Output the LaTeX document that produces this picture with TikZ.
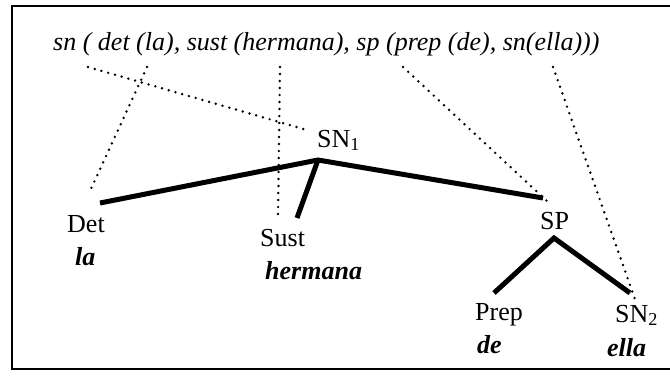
\documentclass[tikz,border=0pt]{standalone}
\usepackage{fontspec}
\setmainfont{Liberation Serif}
\tikzset{
  branch/.style={line width=5pt},
  link/.style={line width=2.7pt, line cap=round, dash pattern=on 0pt off 7pt},
  lab/.style={font=\fontsize{26}{30}\selectfont, inner sep=0pt, anchor=base west},
  word/.style={font=\fontsize{26}{30}\selectfont\bfseries\itshape, inner sep=0pt, anchor=base west},
}
\begin{document}
\begin{tikzpicture}[x=1pt,y=-1pt]
\useasboundingbox (0,0) rectangle (670,376);
\clip (0,0) rectangle (670,376);
% frame, open to the right
\draw[line width=1.8pt] (690,6) -- (12,6) -- (12,369) -- (690,369);

% the formula
\node[lab, font=\fontsize{26}{30}\selectfont\itshape] (form) at (53,50)
  {sn ( det (la), sust (hermana), sp (prep (de), sn(ella)))};
\coordinate (fsn) at (88,67);
\coordinate (fdet) at (147,67);
\coordinate (fsust) at (280,67);
\coordinate (fsp) at (403,67);
\coordinate (fsn2) at (553,67);

% labels of the tree
\node[lab] (sn1) at (317,147) {SN\textsubscript{1}};
\node[lab] (det) at (67,232) {Det};
\node[word] (la) at (75,265) {la};
\node[lab] (sust) at (260,246) {Sust};
\node[word] (hermana) at (265,279) {hermana};
\node[lab] (sp) at (540,229) {SP};
\node[lab] (prep) at (475,320) {Prep};
\node[word] (de) at (477,353) {de};
\node[lab] (sn2) at (615,322) {SN\textsubscript{2}};
\node[word] (ella) at (607,356) {ella};

% joints of the branches
\coordinate (apex) at (318,160);
\coordinate (detend) at (100,203);
\coordinate (sustend) at (297,218);
\coordinate (spend) at (543,198);
\coordinate (sptop) at (554,238);
\coordinate (prepend) at (494,293);
\coordinate (sn2end) at (630,293);

\draw[branch] (detend) -- (apex) -- (spend);
\draw[branch] (apex) -- (sustend);
\draw[branch] (prepend) -- (sptop) -- (sn2end);

% links from the formula
\coordinate (lsn1) at (307,130);
\coordinate (ldet) at (90,191);
\coordinate (lsust) at (278,217);
\coordinate (lsp) at (548,202);
\coordinate (lsn2) at (636,302);
\draw[link] (fsn) -- (lsn1);
\draw[link] (fdet) -- (ldet);
\draw[link] (fsust) -- (lsust);
\draw[link] (fsp) -- (lsp);
\draw[link] (fsn2) -- (lsn2);
\end{tikzpicture}
\end{document}
